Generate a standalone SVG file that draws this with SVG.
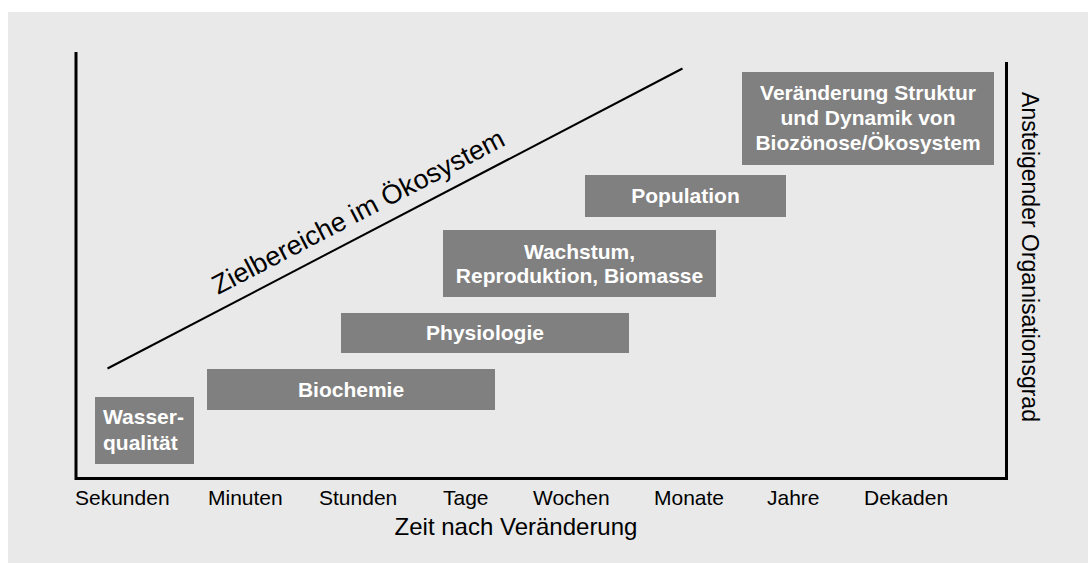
<svg xmlns="http://www.w3.org/2000/svg" width="1088" height="563" viewBox="0 0 1088 563">
<style>
.box{fill:#808080}
.bt{font-family:"Liberation Sans",Arial,sans-serif;font-weight:bold;font-size:21px;fill:#ffffff}
.c{text-anchor:middle}
.ax{font-family:"Liberation Sans",Arial,sans-serif;font-size:21px;fill:#000000}
.axis{stroke:#000;stroke-width:3;fill:none}
</style>
<rect x="0" y="0" width="1088" height="563" fill="#ffffff"/>
<rect x="8" y="12" width="1080" height="551" fill="#e9e9e9"/>
<g id="connectors">
<path class="axis" d="M76,52 V478.5 H1006.5 V62"/>
<line x1="107.5" y1="368.5" x2="682.5" y2="68.5" stroke="#000" stroke-width="2"/>
</g>
<g id="wasser">
<rect class="box" x="95" y="397" width="99" height="67"/>
<text class="bt" x="103" y="424">Wasser-</text>
<text class="bt" x="103" y="450">qualität</text>
</g>
<g id="biochemie">
<rect class="box" x="207" y="369" width="288" height="41"/>
<text class="bt c" x="351" y="397">Biochemie</text>
</g>
<g id="physiologie">
<rect class="box" x="341" y="313" width="288" height="40"/>
<text class="bt c" x="485" y="340">Physiologie</text>
</g>
<g id="wachstum">
<rect class="box" x="443" y="230" width="273" height="67"/>
<text class="bt c" x="579.5" y="259">Wachstum,</text>
<text class="bt c" x="579.5" y="283">Reproduktion, Biomasse</text>
</g>
<g id="population">
<rect class="box" x="585" y="175" width="201" height="42"/>
<text class="bt c" x="685.5" y="203">Population</text>
</g>
<g id="oekosystem">
<rect class="box" x="742" y="72" width="252" height="93"/>
<text class="bt c" x="868" y="100">Veränderung Struktur</text>
<text class="bt c" x="868" y="125">und Dynamik von</text>
<text class="bt c" x="868" y="150">Biozönose/Ökosystem</text>
</g>
<g id="labels">
<text class="ax" x="75" y="505">Sekunden</text>
<text class="ax" x="208" y="505">Minuten</text>
<text class="ax" x="319" y="505">Stunden</text>
<text class="ax" x="443" y="505">Tage</text>
<text class="ax" x="533" y="505">Wochen</text>
<text class="ax" x="654" y="505">Monate</text>
<text class="ax" x="767" y="505">Jahre</text>
<text class="ax" x="864" y="505">Dekaden</text>
<text class="ax c" x="516" y="535" style="font-size:24px">Zeit nach Veränderung</text>
<text class="ax c" transform="translate(1022,257) rotate(90)" style="font-size:23px">Ansteigender Organisationsgrad</text>
<text class="ax" transform="translate(218,295) rotate(-27.5)" style="font-size:27px">Zielbereiche im Ökosystem</text>
</g>
</svg>
